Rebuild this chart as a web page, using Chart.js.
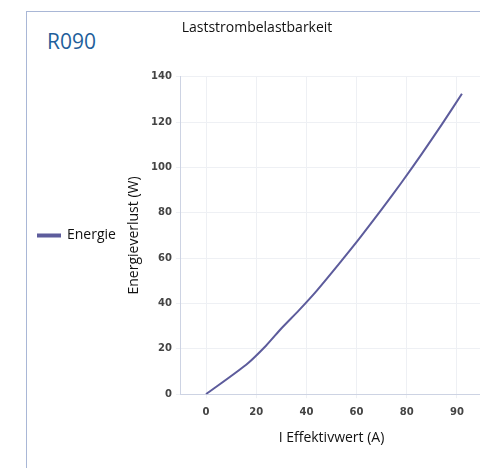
<!DOCTYPE html>
<html>
<head>
<meta charset="utf-8">
<script src="https://cdn.jsdelivr.net/npm/chart.js@4/dist/chart.umd.min.js"></script>
<style>
  html, body { margin: 0; padding: 0; background: #fff; overflow: hidden; }
  body { width: 480px; height: 468px; position: relative; }
  #frame {
    position: absolute; left: 26px; top: 11px; width: 470px; height: 470px;
    border-left: 1px solid #a9b7d6; border-top: 1px solid #a9b7d6;
  }
  #code {
    position: absolute; left: 47px; top: 27px;
    font-family: "Open Sans", sans-serif; font-size: 21px; color: #1f5f9b;
  }
  #wrap { position: absolute; left: 26px; top: 11px; }
</style>
</head>
<body>
<div id="frame"></div>
<div id="code">R090</div>
<div id="wrap"><canvas id="myChart" width="460" height="457"></canvas></div>
<script>
// values
const currentA = [0, 16, 24, 30, 37, 44, 53, 61, 70, 78, 86, 94, 102];
const lossW = [0, 13, 21.5, 29, 37, 45.5, 57.5, 68.5, 81.5, 93.5, 106, 119, 132.5];
const xTickValues = [0, 20, 40, 60, 80, 100];
const xTickLabels = ['0', '20', '40', '60', '80', '90'];
const yTickValues = [0, 20, 40, 60, 80, 100, 120, 140];

const lineColor = '#5d5c9c';
const textFont = "'Open Sans', sans-serif";
const tickFont = { family: "'DejaVu Sans', sans-serif", size: 10, weight: 'bold' };

const points = currentA.map((a, i) => ({ x: a, y: lossW[i] }));

const ctx = document.getElementById('myChart').getContext('2d');
const chart = new Chart(ctx, {
  type: 'line',
  data: {
    datasets: [{
      label: 'Energie',
      data: points,
      borderColor: lineColor,
      backgroundColor: lineColor,
      borderWidth: 2,
      pointRadius: 0,
      tension: 0.2
    }]
  },
  options: {
    responsive: false,
    animation: false,
    devicePixelRatio: 1,
    layout: { padding: { top: 0, right: 4, bottom: 18, left: 6 } },
    plugins: {
      title: {
        display: true,
        text: 'Laststrombelastbarkeit',
        color: '#111',
        font: { family: textFont, size: 14, weight: 'normal' },
        padding: { top: 9, bottom: 40 }
      },
      legend: {
        position: 'left',
        fullSize: false,
        labels: {
          boxWidth: 22,
          boxHeight: 2,
          padding: 6,
          color: '#111',
          font: { family: textFont, size: 14 }
        }
      },
      tooltip: { enabled: false }
    },
    scales: {
      x: {
        type: 'linear',
        min: -10,
        max: 110,
        afterBuildTicks: axis => { axis.ticks = xTickValues.map(v => ({ value: v })); },
        ticks: {
          color: '#444',
          font: tickFont,
          padding: 8,
          maxRotation: 0,
          callback: (value) => xTickLabels[xTickValues.indexOf(value)]
        },
        grid: { color: '#eef0f4', tickLength: 4 },
        border: { color: '#cdd3e3' },
        title: {
          display: true,
          text: 'I Effektivwert (A)',
          color: '#111',
          font: { family: textFont, size: 14 },
          padding: { top: 3, bottom: 4 }
        }
      },
      y: {
        min: 0,
        max: 140,
        afterBuildTicks: axis => { axis.ticks = yTickValues.map(v => ({ value: v })); },
        afterFit: scale => { scale.width = 55; },
        ticks: { color: '#444', font: tickFont, padding: 4 },
        grid: { color: '#eef0f4', tickLength: 5 },
        border: { color: '#cdd3e3' },
        title: {
          display: true,
          text: 'Energieverlust (W)',
          color: '#111',
          font: { family: textFont, size: 14 },
          padding: { top: 0, bottom: 0 }
        }
      }
    }
  }
});
</script>
</body>
</html>
